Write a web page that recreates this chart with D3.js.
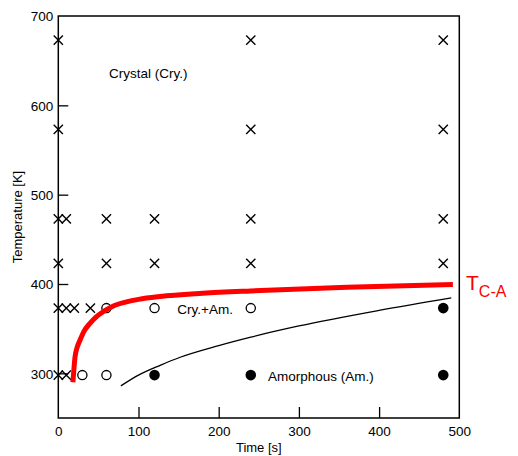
<!DOCTYPE html>
<html>
<head>
<meta charset="utf-8">
<script src="https://cdn.jsdelivr.net/npm/d3@7"></script>
<style>
  body { margin: 0; background: #fff; }
  svg text { font-family: "Liberation Sans", Arial, sans-serif; }
</style>
</head>
<body>
<svg id="chart" width="518" height="456"></svg>
<script>
// data
const timeTicks = [0, 100, 200, 300, 400, 500];
const tempTicks = [300, 400, 500, 600, 700];

// crystal (x marks), mixed (open circles), amorphous (filled)
const crystalTime = [0, 240, 480, 0, 240, 480, 0, 10, 60, 120, 240, 480, 0, 60, 120, 240, 480, 0, 10, 20, 40, 0, 10];
const crystalTemp = [673, 673, 673, 573, 573, 573, 473, 473, 473, 473, 473, 473, 423, 423, 423, 423, 423, 373, 373, 373, 373, 298, 298];
const mixedTime = [60, 120, 240, 30, 60];
const mixedTemp = [373, 373, 373, 298, 298];
const amorphTime = [480, 120, 240, 480];
const amorphTemp = [373, 298, 298, 298];

// T C-A curve (red)
const tcaTime = [18.2, 19.5, 20.8, 23.5, 27, 32, 39.5, 47, 56, 70, 85, 100, 127, 180, 240, 360, 492];
const tcaTemp = [290, 305, 318, 329, 337, 347, 356, 363, 369, 376, 380, 382.8, 386, 389.6, 392.3, 396.3, 399.5];

// thin black curve
const lowTime = [78, 100, 127, 152, 200, 240, 300, 400, 490];
const lowTemp = [286, 298, 309, 318, 331, 340.5, 353, 370.5, 384.5];

const svg = d3.select('#chart');

const x = d3.scaleLinear().domain([0, 500]).range([58.3, 459.3]);
const y = d3.scaleLinear().domain([250, 700]).range([418, 16]);

const fs = '13.5px';

// axes, ticks inward
const xAxis = svg.append('g')
  .attr('transform', `translate(0,${y(250)})`)
  .call(d3.axisBottom(x).tickValues(timeTicks).tickSizeInner(-11).tickSizeOuter(0).tickPadding(8));
const yAxis = svg.append('g')
  .attr('transform', `translate(${x(0)},0)`)
  .call(d3.axisLeft(y).tickValues(tempTicks).tickSizeInner(-10).tickSizeOuter(0).tickPadding(5));

[xAxis, yAxis].forEach(g => {
  g.select('.domain').remove();
  g.selectAll('line').attr('stroke', '#000').attr('stroke-width', 1.3);
  g.selectAll('text').attr('fill', '#000').style('font-size', fs)
    .style('font-family', '"Liberation Sans", Arial, sans-serif');
});
xAxis.selectAll('.tick').filter(d => d == 0 || d == 500).select('line').remove();
yAxis.selectAll('.tick').filter(d => d == 700).select('line').remove();
yAxis.selectAll('text').attr('dy', '0.35em');

// frame
svg.append('rect')
  .attr('x', x(0)).attr('y', y(700))
  .attr('width', x(500) - x(0)).attr('height', y(250) - y(700))
  .attr('fill', 'none').attr('stroke', '#000').attr('stroke-width', 1.5);

// axis titles
svg.append('text')
  .attr('x', (x(0) + x(500)) / 2).attr('y', 452)
  .attr('text-anchor', 'middle').style('font-size', '13px')
  .text('Time [s]');
svg.append('text')
  .attr('transform', `translate(17,${y(475)}) rotate(-90)`)
  .attr('text-anchor', 'middle').attr('dy', '0.35em').style('font-size', '13px')
  .text('Temperature [K]');

// curves
const line = d3.line().x(d => x(d[0])).y(d => y(d[1])).curve(d3.curveMonotoneX);

svg.append('path')
  .datum(lowTime.map((t, i) => [t, lowTemp[i]]))
  .attr('d', line)
  .attr('fill', 'none').attr('stroke', '#000').attr('stroke-width', 1.3);

// markers
const r = 4.6;
svg.append('g').selectAll('path')
  .data(crystalTime.map((t, i) => [t, crystalTemp[i]]))
  .join('path')
  .attr('d', d => {
    const cx = x(d[0]), cy = y(d[1]);
    return `M${cx - r},${cy - r}L${cx + r},${cy + r}M${cx - r},${cy + r}L${cx + r},${cy - r}`;
  })
  .attr('stroke', '#000').attr('stroke-width', 1.4).attr('fill', 'none');

svg.append('g').selectAll('circle')
  .data(mixedTime.map((t, i) => [t, mixedTemp[i]]))
  .join('circle')
  .attr('cx', d => x(d[0])).attr('cy', d => y(d[1])).attr('r', 4.6)
  .attr('fill', '#fff').attr('stroke', '#000').attr('stroke-width', 1.3);

svg.append('g').selectAll('circle')
  .data(amorphTime.map((t, i) => [t, amorphTemp[i]]))
  .join('circle')
  .attr('cx', d => x(d[0])).attr('cy', d => y(d[1])).attr('r', 5.3)
  .attr('fill', '#000');

svg.append('path')
  .datum(tcaTime.map((t, i) => [t, tcaTemp[i]]))
  .attr('d', line)
  .attr('fill', 'none').attr('stroke', '#ff0000').attr('stroke-width', 5);

// region labels
svg.append('text').attr('x', 109).attr('y', 73).attr('dy', '0.35em')
  .style('font-size', fs).text('Crystal (Cry.)');
svg.append('text').attr('x', 233).attr('y', 309).attr('dy', '0.35em')
  .attr('text-anchor', 'end').style('font-size', fs).text('Cry.+Am.');
svg.append('text').attr('x', 268).attr('y', 376).attr('dy', '0.35em')
  .style('font-size', fs).text('Amorphous (Am.)');

// T C-A label
const tca = svg.append('text').attr('x', 466).attr('y', 289.5)
  .attr('fill', '#ff0000').style('font-size', '21px');
tca.append('tspan').text('T');
tca.append('tspan').attr('dy', 7).style('font-size', '16px').text('C-A');
</script>
</body>
</html>
